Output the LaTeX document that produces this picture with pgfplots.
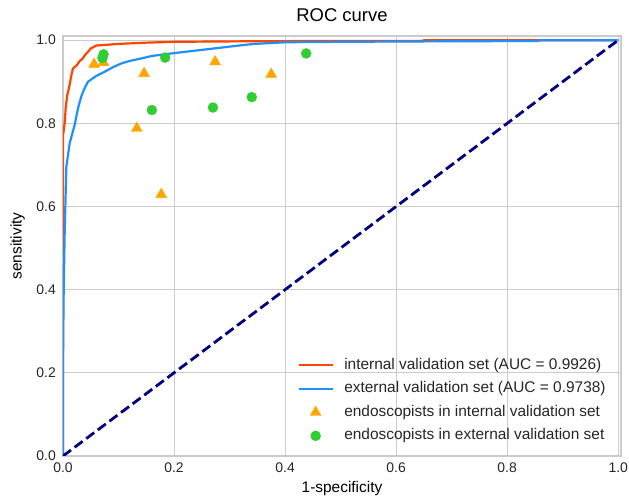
\documentclass[border=0pt]{standalone}
\usepackage{pgfplots}
\pgfplotsset{compat=1.18}
\usepackage{fontspec}
\setmainfont{Liberation Sans}
\definecolor{cred}{HTML}{FF4500}
\definecolor{cblue}{HTML}{1E90FF}
\definecolor{corange}{HTML}{FFA500}
\definecolor{cgreen}{HTML}{32CD32}
\definecolor{cnavy}{HTML}{000080}
\definecolor{gridc}{HTML}{CBCBCB}
\pgfplotsset{
  lineleg/.style={legend image code/.code={\draw[##1] (0bp,0bp) -- (34bp,0bp);}},
  markleg/.style={legend image code/.code={\draw[##1, mark repeat=2, mark phase=2] plot coordinates {(0bp,0bp) (17bp,0bp) (34bp,0bp)};}},
}
\begin{document}
\begin{tikzpicture}
\begin{axis}[
  name=ax,
  scale only axis,
  width=558bp, height=420bp,
  xmin=0, xmax=1.005, ymin=0, ymax=1.01,
  xtick={0,0.2,0.4,0.6,0.8,1.0},
  ytick={0,0.2,0.4,0.6,0.8,1.0},
  /pgf/number format/fixed,
  /pgf/number format/fixed zerofill,
  /pgf/number format/precision=1,
  /pgf/number format/assume math mode=true,
  tick label style={font=\fontsize{14}{16}\selectfont, text=black!85, inner sep=0pt},
  xticklabel style={yshift=-7bp},
  yticklabel style={xshift=-7bp},
  label style={font=\fontsize{15.5}{18}\selectfont, inner sep=0pt},
  xlabel style={at={(axis description cs:0.5,-0.0595)}, anchor=north},
  ylabel style={at={(axis description cs:-0.0681,0.5)}, anchor=south},
  title style={font=\fontsize{18.5}{21}\selectfont, at={(axis description cs:0.5,1)}, anchor=base, yshift=9bp, inner sep=0pt},
  title={ROC curve},
  xlabel={1-specificity},
  ylabel={sensitivity},
  grid=major,
  major grid style={gridc, line width=1bp},
  axis line style={gridc, line width=1.2bp},
  tick style={draw=none},
  legend style={draw=none, fill=none, at={(axis description cs:0.420,0.239)}, anchor=north west,
    inner sep=0pt, font=\fontsize{15.5}{18}\selectfont, row sep=4.5bp, column sep=8.5bp,
    nodes={inner sep=2bp, text height=11.5bp, text depth=3.5bp, text=black!85}},
  legend cell align=left,
]
\addplot[cred, line width=2.2bp, lineleg] coordinates {
(0,0) (0,0.77) (0.003,0.80) (0.005,0.84) (0.008,0.87) (0.01,0.88) (0.013,0.90) (0.015,0.915) (0.018,0.932) (0.025,0.94) (0.03,0.95) (0.035,0.955) (0.04,0.965) (0.045,0.972) (0.05,0.98) (0.06,0.987) (0.08,0.989) (0.1,0.991) (0.15,0.994) (0.2,0.996) (0.3,0.997) (0.45,0.998) (0.648,0.998) (0.65,1.0) (1,1)};
\addlegendentry{internal validation set (AUC = 0.9926)}
\addplot[cblue, line width=2.2bp, lineleg] coordinates {
(0,0) (0,0.214) (0.001,0.375) (0.003,0.536) (0.006,0.695) (0.012,0.752) (0.021,0.796) (0.027,0.836) (0.033,0.865) (0.039,0.885) (0.045,0.90) (0.06,0.914) (0.075,0.924) (0.09,0.935) (0.105,0.944) (0.12,0.95) (0.141,0.956) (0.16,0.962) (0.183,0.966) (0.22,0.972) (0.272,0.980) (0.31,0.986) (0.344,0.991) (0.403,0.995) (0.5,0.996) (0.65,0.997) (0.855,0.998) (0.86,1.0) (1,1)};
\addlegendentry{external validation set (AUC = 0.9738)}
\addplot[only marks, mark=triangle*, mark size=6.3bp, color=corange, markleg] coordinates {
(0.056,0.942) (0.073,0.946) (0.146,0.920) (0.274,0.948) (0.375,0.918) (0.133,0.788) (0.177,0.629)};
\addlegendentry{endoscopists in internal validation set}
\addplot[only marks, mark=*, mark size=5bp, color=cgreen, markleg] coordinates {
(0.073,0.966) (0.071,0.957) (0.184,0.958) (0.160,0.832) (0.270,0.838) (0.340,0.863) (0.438,0.968)};
\addlegendentry{endoscopists in external validation set}
\addplot[cnavy, line width=2.8bp, dash pattern=on 10bp off 4.5bp, forget plot] coordinates {(0,0) (1,1)};
\end{axis}
\pgfresetboundingbox
\useasboundingbox ([xshift=-63bp,yshift=-41bp]ax.south west) rectangle ([xshift=8bp,yshift=36bp]ax.north east);
\end{tikzpicture}
\end{document}
